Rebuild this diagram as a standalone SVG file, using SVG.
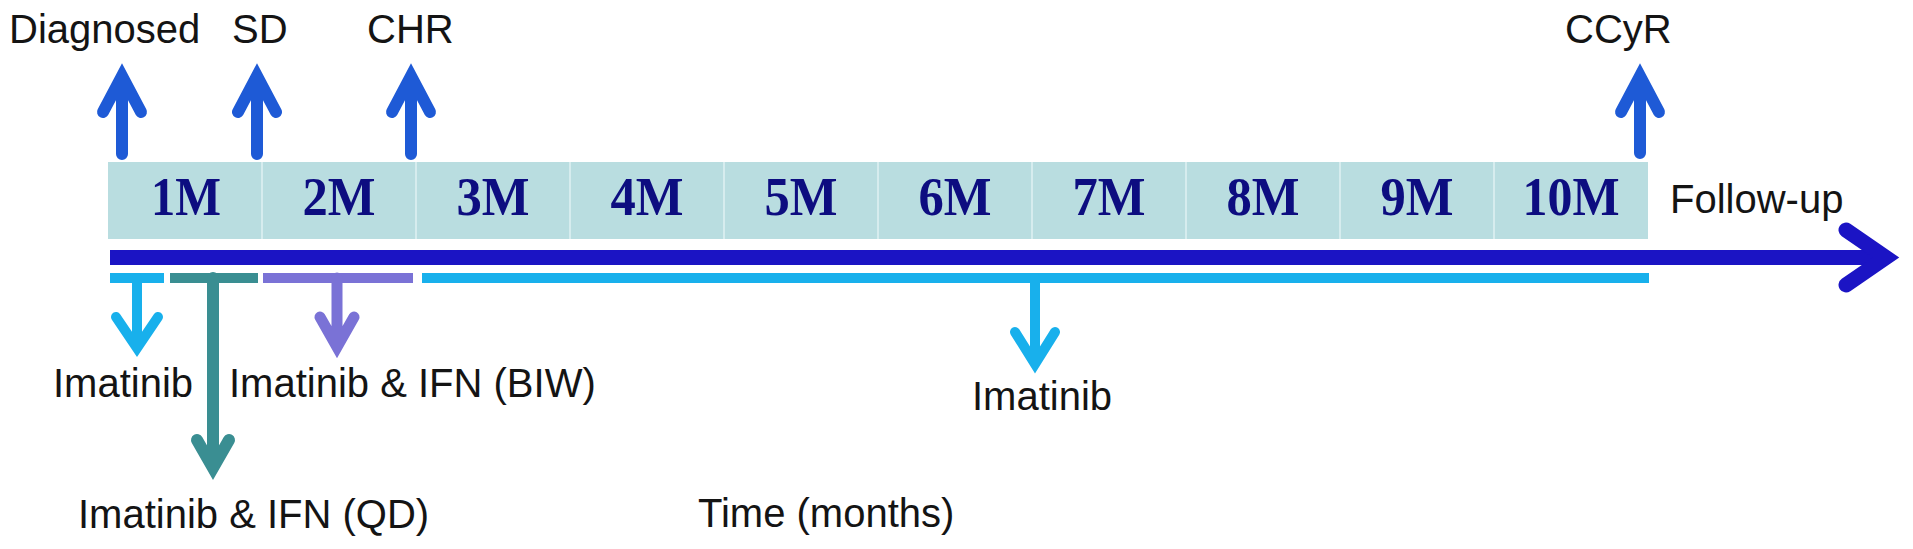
<svg xmlns="http://www.w3.org/2000/svg" width="1913" height="549" viewBox="0 0 1913 549">
<style>
.lbl{font-family:"Liberation Sans",Arial,sans-serif;font-size:40px;fill:#141414}
.mon{font-family:"Liberation Serif","Times New Roman",serif;font-weight:bold;font-size:54px;fill:#0d0d80;text-anchor:middle}
.arr{fill:none;stroke-linecap:round;stroke-linejoin:miter;stroke-miterlimit:10}
.up{stroke:#1e5ad6;stroke-width:12}
.lb{stroke:#18b0ec}
.tl{stroke:#3a8e92}
.pu{stroke:#7a72d6}
.cell{fill:#b9dde0}
.div{stroke:#d6ecee;stroke-width:2}
</style>
<g id="months">
<rect class="cell" x="108" y="162" width="1540" height="77"/>
<g class="div">
<line x1="262" y1="162" x2="262" y2="239"/>
<line x1="416" y1="162" x2="416" y2="239"/>
<line x1="570" y1="162" x2="570" y2="239"/>
<line x1="724" y1="162" x2="724" y2="239"/>
<line x1="878" y1="162" x2="878" y2="239"/>
<line x1="1032" y1="162" x2="1032" y2="239"/>
<line x1="1186" y1="162" x2="1186" y2="239"/>
<line x1="1340" y1="162" x2="1340" y2="239"/>
<line x1="1494" y1="162" x2="1494" y2="239"/>
</g>
<text class="mon" x="186" y="215" textLength="70" lengthAdjust="spacingAndGlyphs">1M</text>
<text class="mon" x="339" y="215" textLength="73" lengthAdjust="spacingAndGlyphs">2M</text>
<text class="mon" x="493" y="215" textLength="73" lengthAdjust="spacingAndGlyphs">3M</text>
<text class="mon" x="647" y="215" textLength="73" lengthAdjust="spacingAndGlyphs">4M</text>
<text class="mon" x="801" y="215" textLength="73" lengthAdjust="spacingAndGlyphs">5M</text>
<text class="mon" x="955" y="215" textLength="73" lengthAdjust="spacingAndGlyphs">6M</text>
<text class="mon" x="1109" y="215" textLength="73" lengthAdjust="spacingAndGlyphs">7M</text>
<text class="mon" x="1263" y="215" textLength="73" lengthAdjust="spacingAndGlyphs">8M</text>
<text class="mon" x="1417" y="215" textLength="73" lengthAdjust="spacingAndGlyphs">9M</text>
<text class="mon" x="1571" y="215" textLength="97" lengthAdjust="spacingAndGlyphs">10M</text>
</g>
<g id="labels">
<text class="lbl" x="9" y="43">Diagnosed</text>
<text class="lbl" x="232" y="43">SD</text>
<text class="lbl" x="367" y="43">CHR</text>
<text class="lbl" x="1565" y="43">CCyR</text>
<text class="lbl" x="1670" y="213">Follow-up</text>
<text class="lbl" x="53" y="397">Imatinib</text>
<text class="lbl" x="229" y="397">Imatinib &amp; IFN (BIW)</text>
<text class="lbl" x="78" y="528">Imatinib &amp; IFN (QD)</text>
<text class="lbl" x="972" y="410">Imatinib</text>
<text class="lbl" x="698" y="527">Time (months)</text>
</g>
<g id="connectors">
<g id="timeline">
<line x1="110" y1="257.5" x2="1880" y2="257.5" stroke="#1b14c4" stroke-width="15"/>
<path class="arr" d="M1846 230 L1886 257.5 L1846 285" stroke="#1b14c4" stroke-width="15"/>
</g>
<g id="events">
<path class="arr up" d="M122 154 V80 M103 112 L122 76 L141 112"/>
<path class="arr up" d="M257 154 V80 M238 112 L257 76 L276 112"/>
<path class="arr up" d="M411 154 V80 M392 112 L411 76 L430 112"/>
<path class="arr up" d="M1640 153 V80 M1621 112 L1640 76 L1659 112"/>
</g>
<g id="treatment-bars" stroke-width="10">
<line x1="110" y1="278" x2="164" y2="278" stroke="#18b0ec"/>
<line x1="170" y1="278" x2="258" y2="278" stroke="#3a8e92"/>
<line x1="263" y1="278" x2="413" y2="278" stroke="#7a72d6"/>
<line x1="422" y1="278" x2="1649" y2="278" stroke="#18b0ec"/>
</g>
<g id="treatment-arrows">
<path class="arr lb" stroke-width="10" d="M137 278 V345 M116 317 L137 348 L158 317"/>
<path class="arr tl" stroke-width="12" d="M213 278 V465 M197 440 L213 468 L229 440"/>
<path class="arr pu" stroke-width="11" d="M337 278 V344 M320 317 L337 347 L354 317"/>
<path class="arr lb" stroke-width="10" d="M1035 278 V360 M1015 332 L1035 364 L1055 332"/>
</g>
</g>
</svg>
